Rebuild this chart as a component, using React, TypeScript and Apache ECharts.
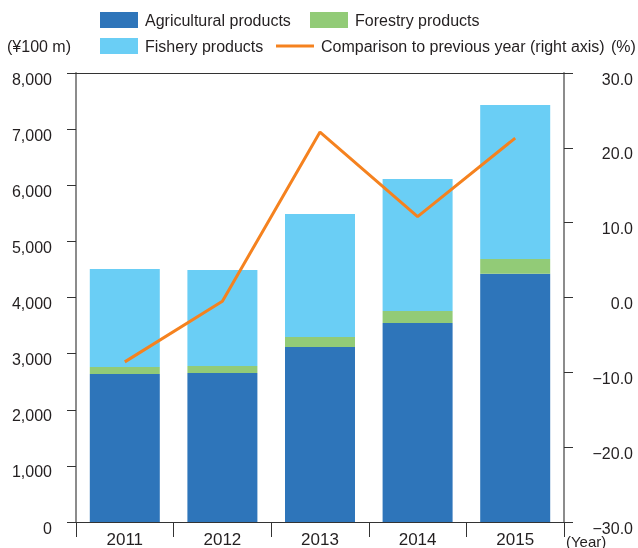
import React, { useEffect, useRef } from "react";
import * as echarts from "echarts";

const years = ["2011", "2012", "2013", "2014", "2015"];
const agricultural = [2637, 2655, 3118, 3546, 4424];
const forestry = [125, 125, 178, 214, 262];
const fishery = [1746, 1710, 2192, 2351, 2744];
const comparison = [-8.6, -0.5, 22.1, 10.8, 21.3];

const FONT = "'Liberation Sans', Arial, Helvetica, sans-serif";
const TXT = "#231f20";

export default function App() {
  const ref = useRef<HTMLDivElement>(null);
  useEffect(() => {
    if (!ref.current) return;
    const chart = echarts.init(ref.current, undefined, { renderer: "svg" });
    const legendBase = {
      itemWidth: 38,
      itemHeight: 16,
      icon: "rect",
      padding: 0,
      textStyle: { fontFamily: FONT, fontSize: 16, color: TXT, padding: [0, 0, 0, 2] },
      selectedMode: false,
    };
    chart.setOption({
      animation: false,
      textStyle: { fontFamily: FONT },
      grid: {
        left: 76,
        right: 74,
        top: 73,
        bottom: 26,
        containLabel: false,
        outerBoundsMode: "none",
      },
      legend: [
        { ...legendBase, left: 100, top: 12, data: ["Agricultural products"] },
        { ...legendBase, left: 310, top: 12, data: ["Forestry products"] },
        { ...legendBase, left: 100, top: 38, data: ["Fishery products"] },
        {
          ...legendBase,
          itemHeight: 3,
          left: 276,
          top: 38,
          data: ["Comparison to previous year (right axis)"],
        },
      ],
      graphic: [
        {
          type: "text",
          left: 7,
          top: 38,
          style: { text: "(¥100 m)", font: `16px ${FONT}`, fill: TXT },
        },
        {
          type: "text",
          left: 611,
          top: 38,
          style: { text: "(%)", font: `16px ${FONT}`, fill: TXT },
        },
        {
          type: "text",
          left: 566,
          top: 534,
          style: { text: "(Year)", font: `15px ${FONT}`, lineHeight: 13, fill: TXT },
        },
      ],
      xAxis: [
        {
          type: "category",
          data: years,
          boundaryGap: true,
          axisLine: { onZero: false, lineStyle: { color: "#333", width: 1 } },
          axisTick: { show: true, length: 15, inside: false, lineStyle: { color: "#333", width: 1 } },
          axisLabel: { fontSize: 17, color: TXT, margin: 9, fontFamily: FONT },
        },
        {
          type: "category",
          data: years,
          position: "top",
          axisLine: { show: true, onZero: false, lineStyle: { color: "#333", width: 1 } },
          axisTick: { show: false },
          axisLabel: { show: false },
        },
      ],
      yAxis: [
        {
          type: "value",
          min: 0,
          max: 8000,
          interval: 1000,
          axisLine: { show: true, lineStyle: { color: "#8c8c8c", width: 2 } },
          axisTick: { show: true, length: 9, lineStyle: { color: "#333", width: 1 } },
          splitLine: { show: false },
          axisLabel: {
            fontSize: 16,
            color: TXT,
            margin: 24,
            verticalAlign: "top",
            lineHeight: 12,
            fontFamily: FONT,
            formatter: (v: number) => v.toLocaleString("en-US"),
          },
        },
        {
          type: "value",
          min: -30,
          max: 30,
          interval: 10,
          position: "right",
          axisLine: { show: true, lineStyle: { color: "#8c8c8c", width: 2 } },
          axisTick: { show: true, length: 9, lineStyle: { color: "#333", width: 1 } },
          splitLine: { show: false },
          axisLabel: {
            fontSize: 16,
            color: TXT,
            margin: 69,
            align: "right",
            verticalAlign: "top",
            lineHeight: 12,
            fontFamily: FONT,
            formatter: (v: number) => (v < 0 ? "\u2212" + Math.abs(v).toFixed(1) : v.toFixed(1)),
          },
        },
      ],
      series: [
        {
          name: "Agricultural products",
          type: "bar",
          stack: "total",
          barWidth: 70,
          data: agricultural,
          itemStyle: { color: "#2e75ba" },
        },
        {
          name: "Forestry products",
          type: "bar",
          stack: "total",
          barWidth: 70,
          data: forestry,
          itemStyle: { color: "#92cb77" },
        },
        {
          name: "Fishery products",
          type: "bar",
          stack: "total",
          barWidth: 70,
          data: fishery,
          itemStyle: { color: "#6acef5" },
        },
        {
          name: "Comparison to previous year (right axis)",
          type: "line",
          yAxisIndex: 1,
          data: comparison,
          symbol: "none",
          lineStyle: { color: "#f5821f", width: 3 },
          itemStyle: { color: "#f5821f" },
        },
      ],
    });
    return () => chart.dispose();
  }, []);
  return (
    <div
      ref={ref}
      style={{ position: "fixed", left: 0, top: 0, width: 638, height: 548 }}
    />
  );
}
